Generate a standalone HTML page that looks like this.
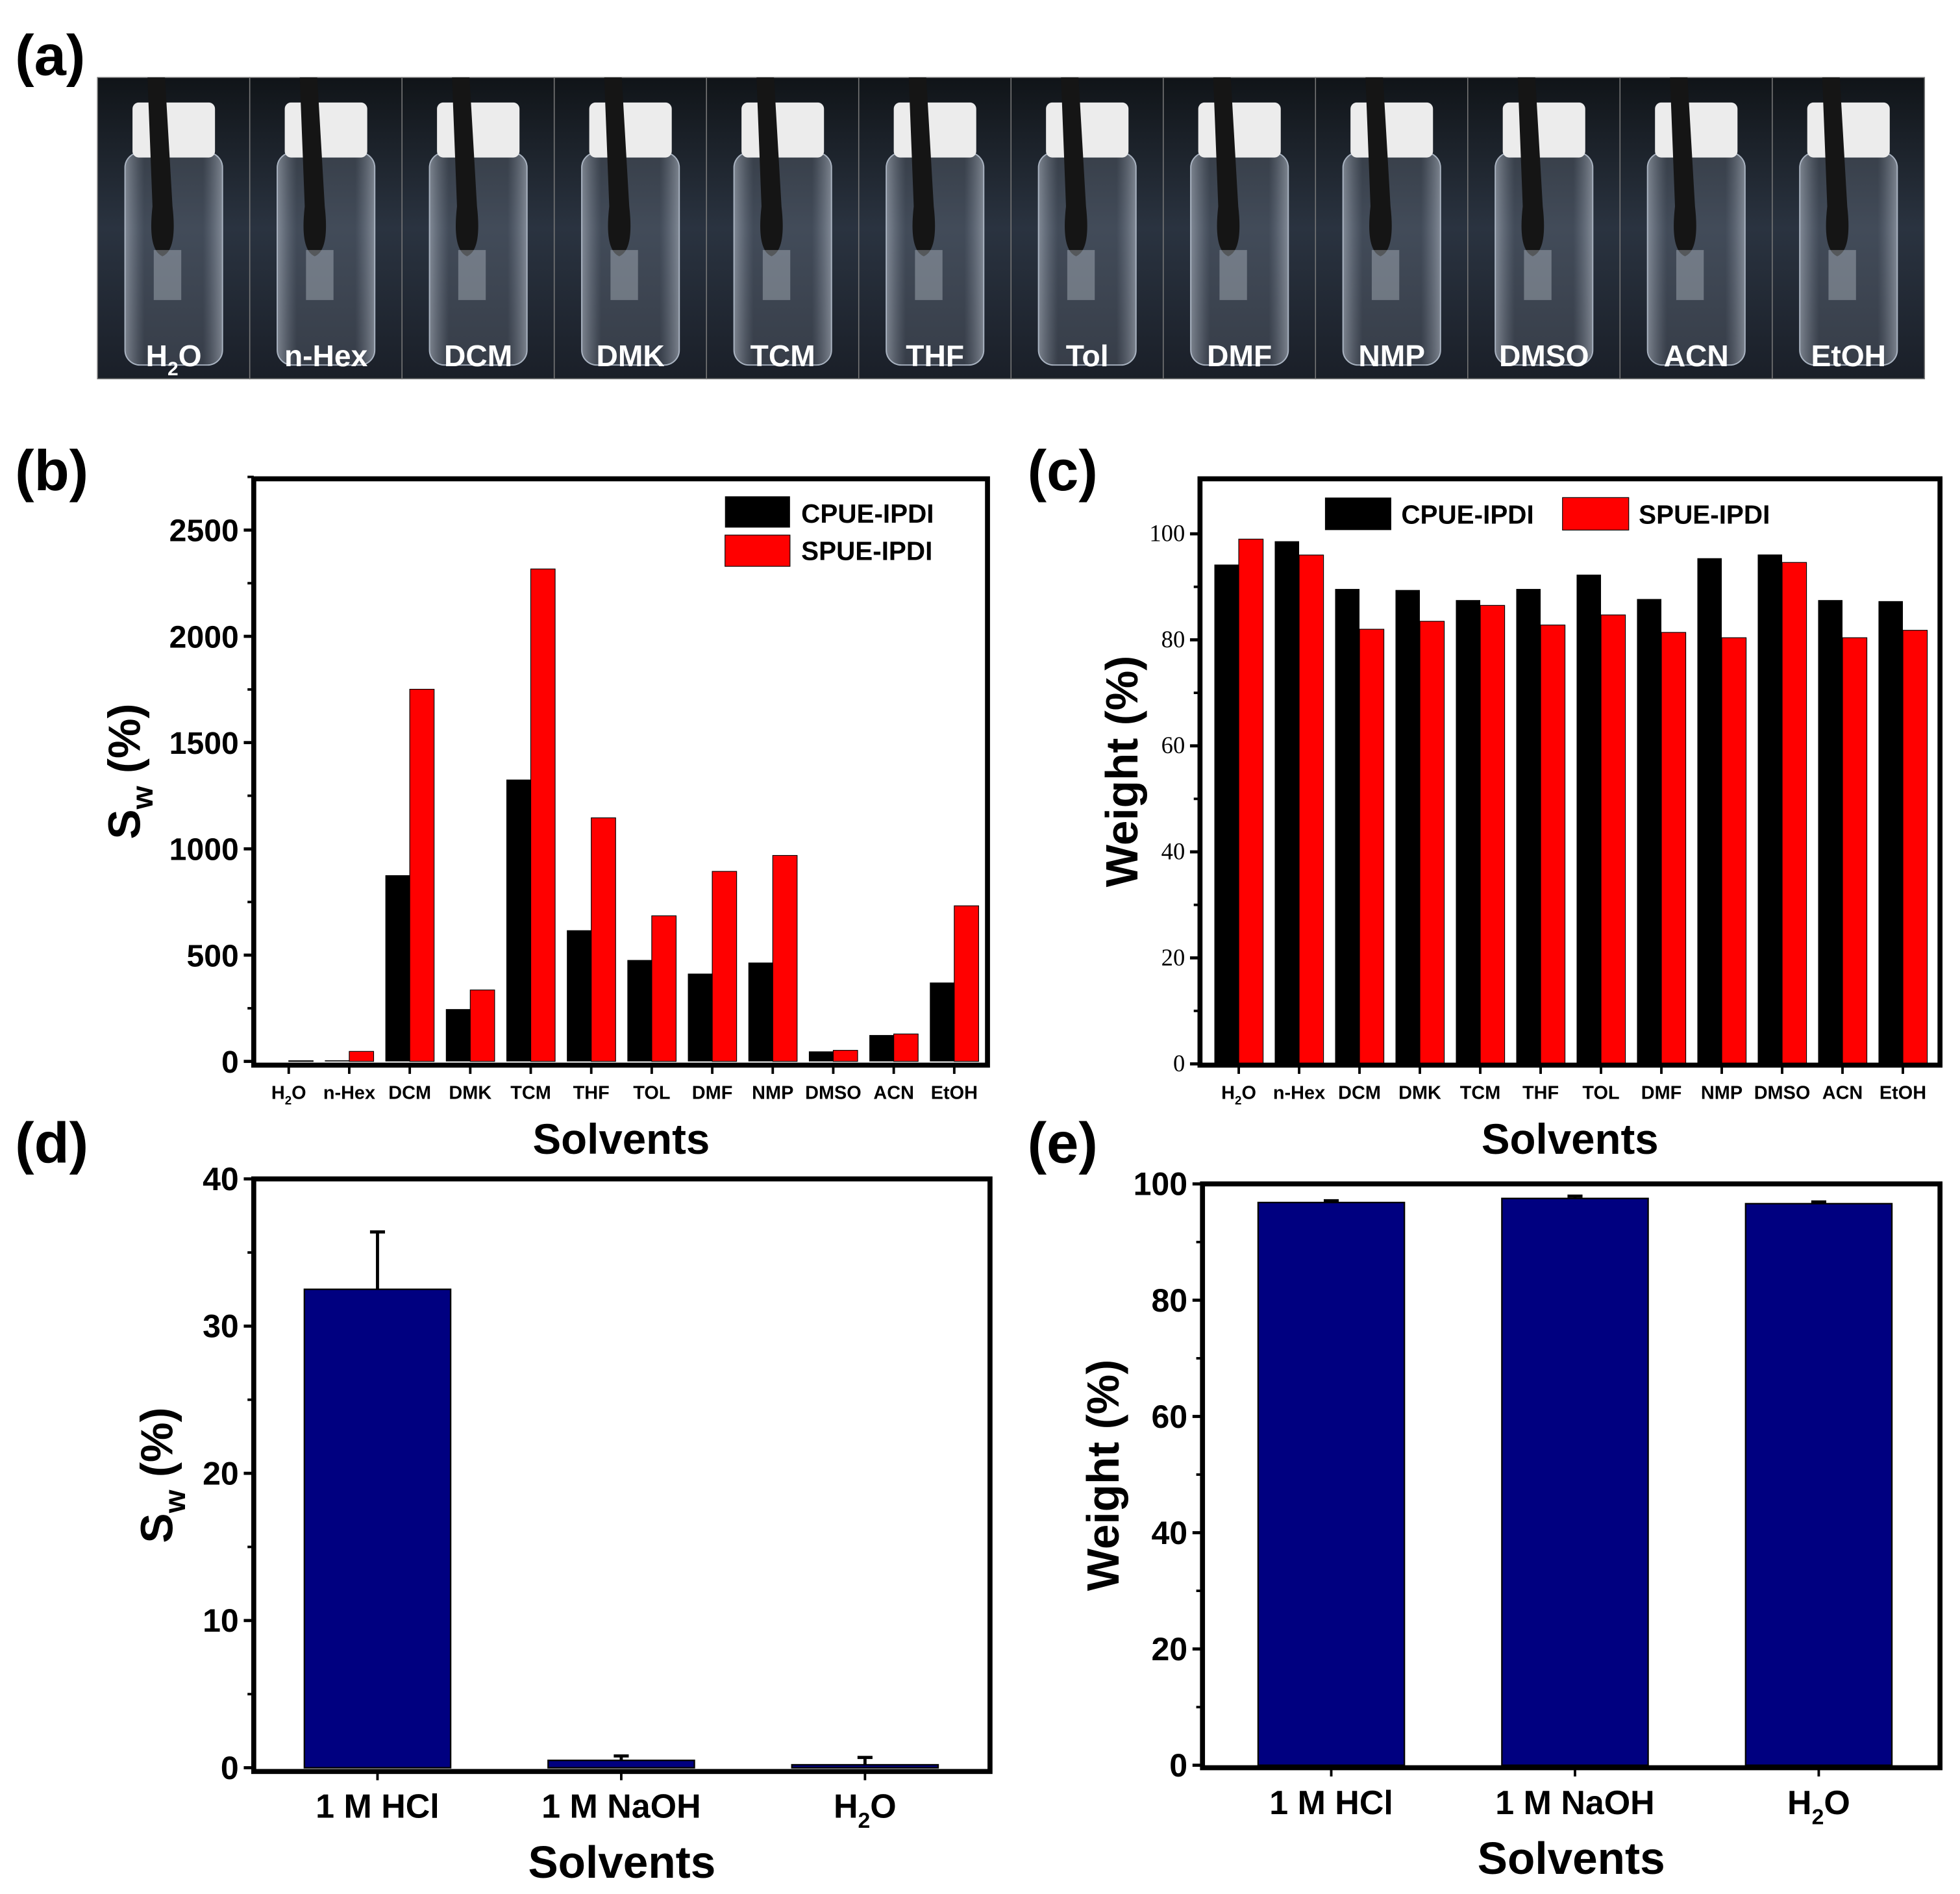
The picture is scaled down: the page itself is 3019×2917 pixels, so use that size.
<!DOCTYPE html>
<html><head><meta charset="utf-8">
<style>
html,body{margin:0;padding:0;background:#fff;}
svg{display:block;font-family:"Liberation Sans",Arial,sans-serif;}
.b{font-weight:bold;}
</style></head>
<body>
<svg id="fig" width="3019" height="2917" viewBox="0 0 1568 1515" preserveAspectRatio="none" xmlns="http://www.w3.org/2000/svg">
<defs>
<linearGradient id="bg" x1="0" y1="0" x2="0" y2="1"><stop offset="0" stop-color="#101418"/><stop offset="0.5" stop-color="#2a3340"/><stop offset="1" stop-color="#1a1f28"/></linearGradient>
<linearGradient id="vial" x1="0" y1="0" x2="1" y2="0"><stop offset="0" stop-color="#c8d0dc" stop-opacity="0.55"/><stop offset="0.2" stop-color="#8a94a4" stop-opacity="0.25"/><stop offset="0.8" stop-color="#8a94a4" stop-opacity="0.25"/><stop offset="1" stop-color="#c8d0dc" stop-opacity="0.55"/></linearGradient>
</defs>
<g id="photos"></g>
<text x="12" y="60" class="b" font-size="46">(a)</text>
<text x="12" y="392" class="b" font-size="46">(b)</text>
<text x="822" y="392" class="b" font-size="46">(c)</text>
<text x="12" y="930" class="b" font-size="46">(d)</text>
<text x="822" y="930" class="b" font-size="46">(e)</text>
<g id="gb"></g>
<g id="gc"></g>
<g id="gd"></g>
<g id="ge"></g>
</svg>
<script>
const photoLabels=["H2O","n-Hex","DCM","DMK","TCM","THF","Tol","DMF","NMP","DMSO","ACN","EtOH"];
const solvents=["H2O","n-Hex","DCM","DMK","TCM","THF","TOL","DMF","NMP","DMSO","ACN","EtOH"];
const swCPUE=[0,5,876,246,1326,617,477,413,465,47,124,371];
const swSPUE=[3,47,1751,336,2317,1146,685,894,969,52,129,732];
const wtCPUE=[94.2,98.6,89.6,89.4,87.5,89.6,92.3,87.7,95.4,96.1,87.5,87.3];
const wtSPUE=[99,96,82,83.5,86.5,82.8,84.7,81.4,80.4,94.6,80.4,81.8];
const media=["1 M HCl","1 M NaOH","H2O"];
const swMedia=[32.5,0.5,0.2];
const swMediaErr=[3.9,0.3,0.5];
const wtMedia=[96.8,97.5,96.6];
const wtMediaErr=[0.3,0.4,0.3];
const ticksB=[0,500,1000,1500,2000,2500];
const ticksC=[0,20,40,60,80,100];
const ticksD=[0,10,20,30,40];
const ticksE=[0,20,40,60,80,100];

const NS="http://www.w3.org/2000/svg";
function mk(p,tag,attrs){const e=document.createElementNS(NS,tag);for(const k in attrs)e.setAttribute(k,attrs[k]);p.appendChild(e);return e;}
function labelText(p,x,y,s,size,anchor,fill,family){
  const t=mk(p,"text",{x:x,y:y,"font-size":size,"text-anchor":anchor||"middle","font-weight":"bold",fill:fill||"#000"});
  if(family)t.setAttribute("font-family",family);
  if(s==="H2O"){t.appendChild(document.createTextNode("H"));const ts=mk(t,"tspan",{"font-size":size*0.65,dy:size*0.3});ts.textContent="2";const t2=mk(t,"tspan",{dy:-size*0.3});t2.textContent="O";}
  else t.textContent=s;
  return t;
}

// Panel (a) photos
const ph=document.getElementById("photos");
photoLabels.forEach((lab,i)=>{
  const x0=78+121.8*i;
  const g=mk(ph,"g",{});
  
  
  mk(g,"rect",{x:x0,y:62,width:121.8,height:241,fill:"url(#bg)",stroke:"#777","stroke-width":0.8});
  mk(g,"rect",{x:x0+22,y:122,width:78,height:170,rx:12,fill:"url(#vial)",stroke:"#aab4c2","stroke-width":1});
  mk(g,"rect",{x:x0+28,y:82,width:66,height:44,rx:5,fill:"#ececec"});
  mk(g,"path",{d:`M${x0+40} 62 L${x0+54} 62 L${x0+60} 165 Q${x0+64} 200 ${x0+52} 205 Q${x0+40} 200 ${x0+44} 165 Z`,fill:"#151515"});
  mk(g,"rect",{x:x0+45,y:200,width:22,height:40,fill:"#cfd6e0","fill-opacity":0.35});
  labelText(g,x0+61,293,lab,24,"middle","#fff");
});

function frame(g,l,t,r,b){mk(g,"rect",{x:l,y:t,width:r-l,height:b-t,fill:"none",stroke:"#000","stroke-width":4});}

// Panel b
(function(){
  const g=document.getElementById("gb");
  const L=203,R=790,T=383,B=852,y0=849,ymax=2500,y1=424;
  const ys=v=>y0-(v/ymax)*(y0-y1);
  const xs=i=>231+48.4*i;
  solvents.forEach((s,i)=>{
    const r1=mk(g,"rect",{x:xs(i)-19.5,y:ys(swCPUE[i]),width:19.5,height:y0-ys(swCPUE[i]),fill:"#000"});
    
    
    const r2=mk(g,"rect",{x:xs(i),y:ys(swSPUE[i]),width:19.5,height:y0-ys(swSPUE[i]),fill:"#f00",stroke:"#000","stroke-width":0.6});
    
    
    mk(g,"line",{x1:xs(i),y1:B,x2:xs(i),y2:B+7,stroke:"#000","stroke-width":2});
    const t=labelText(g,xs(i),879,s,15);
    
    
  });
  ticksB.forEach(v=>{
    mk(g,"line",{x1:L-8,y1:ys(v),x2:L,y2:ys(v),stroke:"#000","stroke-width":2.5});
    mk(g,"line",{x1:L-5,y1:ys(v+250),x2:L,y2:ys(v+250),stroke:"#000","stroke-width":2});
    const t=labelText(g,L-12,ys(v)+9,String(v),25,"end");
    
    
  });
  frame(g,L,T,R,B);
  const lg=mk(g,"g",{});
  
  
  mk(lg,"rect",{x:580,y:397,width:52,height:25,fill:"#000"});
  mk(lg,"rect",{x:580,y:428,width:52,height:25,fill:"#f00",stroke:"#000","stroke-width":0.6});
  labelText(lg,641,418,"CPUE-IPDI",21,"start");
  labelText(lg,641,448,"SPUE-IPDI",21,"start");
  const yt=mk(g,"text",{x:0,y:0,"font-size":36,"font-weight":"bold","text-anchor":"middle",transform:"translate(112,617) rotate(-90)"});
  
  
  yt.appendChild(document.createTextNode("S"));const sb=mk(yt,"tspan",{"font-size":24,dy:10});sb.textContent="w";const sr=mk(yt,"tspan",{dy:-10});sr.textContent=" (%)";
  const xt=labelText(g,497,923,"Solvents",34);
  
  
})();

// Panel c
(function(){
  const g=document.getElementById("gc");
  const L=960,R=1552,T=383,B=852,y0=851,y1=427;
  const ys=v=>y0-(v/100)*(y0-y1);
  const xs=i=>991+48.3*i;
  solvents.forEach((s,i)=>{
    const r1=mk(g,"rect",{x:xs(i)-19.5,y:ys(wtCPUE[i]),width:19.5,height:y0-ys(wtCPUE[i]),fill:"#000"});
    
    
    const r2=mk(g,"rect",{x:xs(i),y:ys(wtSPUE[i]),width:19.5,height:y0-ys(wtSPUE[i]),fill:"#f00",stroke:"#000","stroke-width":0.6});
    
    
    mk(g,"line",{x1:xs(i),y1:B,x2:xs(i),y2:B+7,stroke:"#000","stroke-width":2});
    const t=labelText(g,xs(i),879,s,15);
    
    
  });
  ticksC.forEach(v=>{
    mk(g,"line",{x1:L-8,y1:ys(v),x2:L,y2:ys(v),stroke:"#000","stroke-width":2.5});
    if(v<100)mk(g,"line",{x1:L-5,y1:ys(v+10),x2:L,y2:ys(v+10),stroke:"#000","stroke-width":2});
    const t=mk(g,"text",{x:L-12,y:ys(v)+6,"font-size":19,"text-anchor":"end","font-family":"Liberation Serif, serif"});
    t.textContent=String(v);
    
    
  });
  frame(g,L,T,R,B);
  const lg=mk(g,"g",{});
  
  
  mk(lg,"rect",{x:1060,y:398,width:53,height:26,fill:"#000"});
  mk(lg,"rect",{x:1250,y:398,width:53,height:26,fill:"#f00",stroke:"#000","stroke-width":0.6});
  labelText(lg,1121,419,"CPUE-IPDI",21,"start");
  labelText(lg,1311,419,"SPUE-IPDI",21,"start");
  const yt=mk(g,"text",{x:0,y:0,"font-size":36,"font-weight":"bold","text-anchor":"middle",transform:"translate(910,617) rotate(-90)"});
  yt.textContent="Weight (%)";
  
  
  const xt=labelText(g,1256,923,"Solvents",34);
  
  
})();

// Panels d, e
function single(id,L,R,T,B,y0,y1,ymax,ticks,minorStep,vals,errs,cx0,title,tx,ty,decimals){
  const g=document.getElementById(id);
  const ys=v=>y0-(v/ymax)*(y0-y1);
  const xs=i=>cx0+195*i;
  media.forEach((m,i)=>{
    const r=mk(g,"rect",{x:xs(i)-58.5,y:ys(vals[i]),width:117,height:y0-ys(vals[i]),fill:"#000080",stroke:"#000","stroke-width":1.2});
    
    
    const e=mk(g,"path",{d:`M${xs(i)} ${ys(vals[i])} V${ys(vals[i]+errs[i])} M${xs(i)-6} ${ys(vals[i]+errs[i])} H${xs(i)+6}`,stroke:"#000","stroke-width":2.5,fill:"none"});
    
    
    mk(g,"line",{x1:xs(i),y1:B,x2:xs(i),y2:B+7,stroke:"#000","stroke-width":2});
    const t=labelText(g,xs(i),B+37,m,27);
    
    
  });
  ticks.forEach((v,k)=>{
    mk(g,"line",{x1:L-8,y1:ys(v),x2:L,y2:ys(v),stroke:"#000","stroke-width":2.5});
    if(k<ticks.length-1)mk(g,"line",{x1:L-5,y1:ys(v+minorStep),x2:L,y2:ys(v+minorStep),stroke:"#000","stroke-width":2});
    const t=labelText(g,L-12,ys(v)+9,String(v),26,"end");
    
    
  });
  frame(g,L,T,R,B);
  const yt=mk(g,"text",{x:0,y:0,"font-size":36,"font-weight":"bold","text-anchor":"middle",transform:`translate(${tx},${ty}) rotate(-90)`});
  
  
  if(title==="Sw"){yt.appendChild(document.createTextNode("S"));const sb=mk(yt,"tspan",{"font-size":24,dy:10});sb.textContent="w";const sr=mk(yt,"tspan",{dy:-10});sr.textContent=" (%)";}
  else yt.textContent=title;
  const xt=labelText(g,(L+R)/2,B+85,"Solvents",36);
  
  
}
single("gd",203,792,943,1417,1414,943,40,ticksD,5,swMedia,swMediaErr,302,"Sw",138,1180);
single("ge",962,1552,947,1414,1412,947,100,ticksE,10,wtMedia,wtMediaErr,1065,"Weight (%)",895,1180);
</script>
</body></html>
